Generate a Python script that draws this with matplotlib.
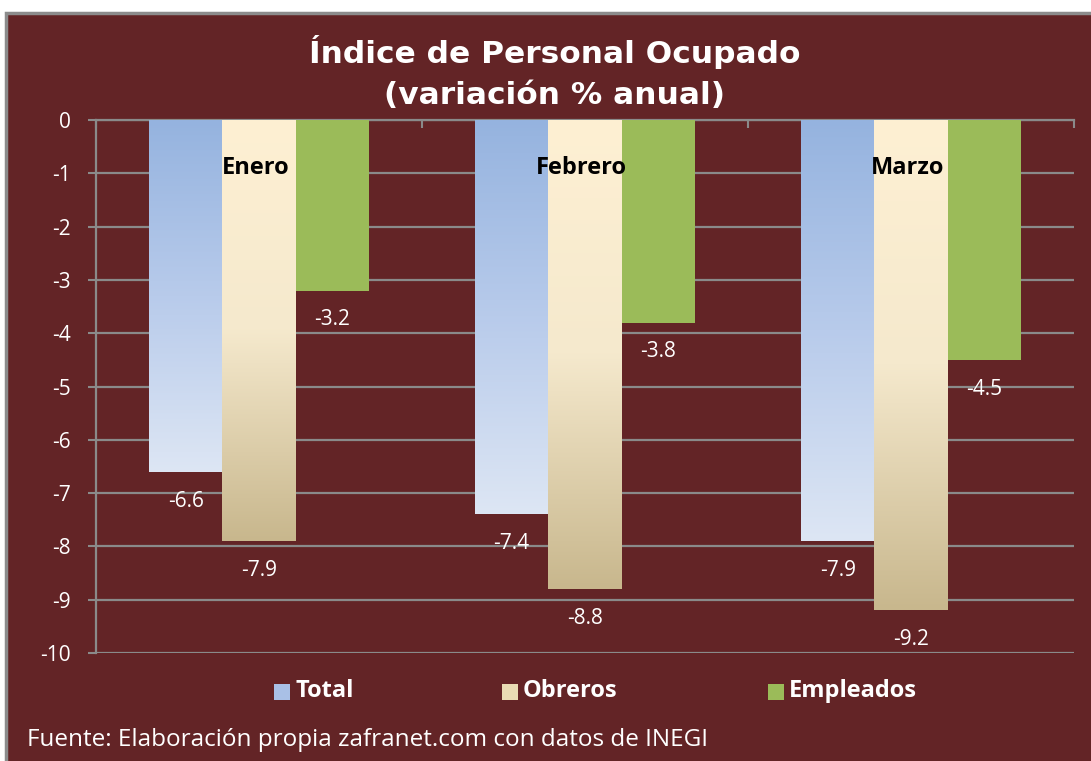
import numpy as np
import matplotlib
matplotlib.use("Agg")
import matplotlib.pyplot as plt
from matplotlib.colors import LinearSegmentedColormap
from matplotlib.patches import Rectangle

months = ["Enero", "Febrero", "Marzo"]
series = ["Total", "Obreros", "Empleados"]
total = [-6.6, -7.4, -7.9]
obreros = [-7.9, -8.8, -9.2]
empleados = [-3.2, -3.8, -4.5]
yticks = [0, -1, -2, -3, -4, -5, -6, -7, -8, -9, -10]

W, H = 1091, 761
BG = "#632426"
GRID = "#8a8a8a"

fig = plt.figure(figsize=(W / 100, H / 100), dpi=100)
fig.patch.set_facecolor("white")
bg = Rectangle((6 / W, -0.01), 1.2, 1.01 - 13 / H, transform=fig.transFigure,
               facecolor=BG, edgecolor="#8c8c8c", linewidth=2.5, zorder=-5)
fig.patches.append(bg)

ax = fig.add_axes([96 / W, 1 - 653 / H, (1074 - 96) / W, (653 - 120) / H], zorder=2)
ax.set_facecolor("none")

x = np.arange(len(months))
bw = 0.225
values = [total, obreros, empleados]
offsets = [-bw, 0, bw]

cmaps = [
    LinearSegmentedColormap.from_list("t", ["#95b3df", "#b8cbeb", "#dde6f4"]),
    LinearSegmentedColormap.from_list("o", ["#fef0d3", "#f5e9cd", "#c8b78d"]),
    None,
]
solid = ["none", "none", "#9bbb59"]

grad = np.linspace(0, 1, 256).reshape(-1, 1)
for vals, off, cm, sc in zip(values, offsets, cmaps, solid):
    bars = ax.bar(x + off, vals, bw, color=sc, edgecolor="none", zorder=3)
    for b, v in zip(bars, vals):
        if cm is not None:
            im = ax.imshow(grad, cmap=cm, aspect="auto", zorder=3,
                           extent=[b.get_x(), b.get_x() + b.get_width(), v, 0],
                           origin="upper")
            im.set_clip_path(b)
        ax.text(b.get_x() + b.get_width() / 2, v - 0.55, f"{v:.1f}", ha="center",
                va="center", color="white", fontsize=15, family="Open Sans", zorder=5)

for xi, m in zip(x, months):
    ax.text(xi - 0.01, -0.9, m, ha="center", va="center", color="black",
            fontsize=17, fontweight="bold", family="Open Sans", zorder=6)

ax.set_xlim(-0.5, 2.5)
ax.set_ylim(-10, 0)
ax.set_yticks(yticks)
ax.set_yticklabels([str(t) for t in yticks], color="white", fontsize=15, family="Open Sans")
ax.yaxis.grid(True, color=GRID, linewidth=1.6, zorder=1)
ax.set_axisbelow(True)
ax.tick_params(axis="y", colors=GRID, labelcolor="white", length=6, width=1.5, pad=12)
ax.xaxis.tick_top()
ax.set_xticks([-0.5, 0.5, 1.5, 2.5])
ax.set_xticklabels([])
ax.tick_params(axis="x", colors=GRID, length=6, width=1.5, direction="in")
for t in ax.xaxis.get_major_ticks():
    t.tick2line.set_clip_on(False)
for s in ["right", "bottom"]:
    ax.spines[s].set_visible(False)
ax.spines["left"].set_color(GRID)
ax.spines["left"].set_linewidth(1.6)
ax.spines["top"].set_color(GRID)
ax.spines["top"].set_linewidth(1.6)

fig.text(555 / W, 1 - 52 / H, "Índice de Personal Ocupado", ha="center", va="center",
         color="white", fontsize=22.5, fontweight="bold", family="DejaVu Sans")
fig.text(555 / W, 1 - 95 / H, "(variación % anual)", ha="center", va="center",
         color="white", fontsize=22.5, fontweight="bold", family="DejaVu Sans")

# legend
leg_x = [274, 502, 768]
leg_cols = ["#a9c0e6", "#eadbb4", "#9bbb59"]
for lx, name, c in zip(leg_x, series, leg_cols):
    fig.patches.append(Rectangle((lx / W, 1 - 700 / H), 16 / W, 16 / H,
                                 transform=fig.transFigure, facecolor=c, edgecolor="none"))
    fig.text((lx + 21) / W, 1 - 691 / H, name, ha="left", va="center", color="white",
             fontsize=17, fontweight="bold", family="Open Sans")

fig.text(27 / W, 1 - 740 / H, "Fuente: Elaboración propia zafranet.com con datos de INEGI",
         ha="left", va="center", color="white", fontsize=17.5, family="Open Sans")

fig.savefig("out.png", dpi=100, facecolor=fig.get_facecolor())
